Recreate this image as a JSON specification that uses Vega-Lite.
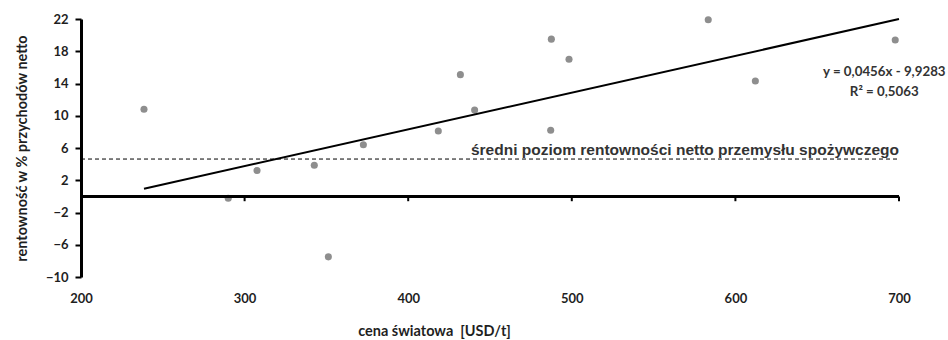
{
  "$schema": "https://vega.github.io/schema/vega-lite/v6.json",
  "width": 818,
  "height": 258,
  "autosize": {"type": "none"},
  "padding": {"left": 81, "top": 19, "right": 49, "bottom": 63},
  "background": "white",
  "config": {
    "view": {"stroke": null},
    "axis": {"grid": false, "labelOverlap": false, "labelFlush": false}
  },
  "datasets": {
    "points": [
      {"cena": 238.5, "rent": 10.8},
      {"cena": 290.0, "rent": -0.24},
      {"cena": 307.6, "rent": 3.2},
      {"cena": 342.6, "rent": 3.85},
      {"cena": 351.2, "rent": -7.5},
      {"cena": 372.6, "rent": 6.4},
      {"cena": 418.4, "rent": 8.1},
      {"cena": 431.9, "rent": 15.1},
      {"cena": 440.6, "rent": 10.7},
      {"cena": 487.1, "rent": 8.2},
      {"cena": 487.5, "rent": 19.5},
      {"cena": 498.3, "rent": 17.0},
      {"cena": 583.4, "rent": 21.9},
      {"cena": 612.2, "rent": 14.3},
      {"cena": 697.7, "rent": 19.4}
    ],
    "trend": [
      {"cena": 238.5, "rent": 0.95},
      {"cena": 700, "rent": 21.99}
    ],
    "ticks": [{"v": 300}, {"v": 400}, {"v": 500}, {"v": 600}, {"v": 700}],
    "eq": [
      {"label": "y = 0,0456x - 9,9283", "cena": 691, "rent": 15.4},
      {"label": "R² = 0,5063", "cena": 691, "rent": 12.95}
    ]
  },
  "layer": [
    {
      "data": {"name": "points"},
      "mark": {"type": "circle", "color": "#8e8e8e", "opacity": 1, "size": 50},
      "encoding": {
        "x": {
          "field": "cena",
          "type": "quantitative",
          "scale": {"domain": [200, 700], "nice": false, "zero": false},
          "axis": {
            "values": [200, 300, 400, 500, 600, 700],
            "tickCount": 20,
            "domain": false,
            "ticks": false,
            "labelFlush": false,
            "labelOverlap": false,
            "labelFont": "Lato",
            "labelFontWeight": "bold",
            "labelFontSize": 13,
            "labelColor": "#1f1f1f",
            "labelPadding": 15,
            "title": "cena światowa \u00a0[USD/t]",
            "titleFont": "Lato",
            "titleFontWeight": "bold",
            "titleFontSize": 14.5,
            "titleColor": "#1f1f1f",
            "titleX": 353,
            "titlePadding": 19
          }
        },
        "y": {
          "field": "rent",
          "type": "quantitative",
          "scale": {"domain": [-10, 22], "nice": false, "zero": false},
          "axis": {
            "values": [-10, -6, -2, 2, 6, 10, 14, 18, 22],
            "tickCount": 20,
            "labelFlush": false,
            "labelOverlap": false,
            "domainColor": "black",
            "domainWidth": 3,
            "tickColor": "black",
            "tickWidth": 2,
            "tickSize": 6,
            "labelFont": "Lato",
            "labelFontWeight": "bold",
            "labelFontSize": 13,
            "labelColor": "#1f1f1f",
            "labelPadding": 7,
            "title": "rentowność w % przychodów netto",
            "titleFont": "Lato",
            "titleFontWeight": "bold",
            "titleFontSize": 14.5,
            "titleColor": "#1f1f1f",
            "titlePadding": 16
          }
        }
      }
    },
    {
      "data": {"values": [{}]},
      "mark": {"type": "rule", "stroke": "black", "strokeWidth": 3},
      "encoding": {
        "x": {"datum": 200, "type": "quantitative"},
        "x2": {"datum": 700},
        "y": {"datum": 0, "type": "quantitative"}
      }
    },
    {
      "data": {"name": "ticks"},
      "mark": {"type": "rule", "stroke": "black", "strokeWidth": 2},
      "encoding": {
        "x": {"field": "v", "type": "quantitative"},
        "y": {"datum": 0, "type": "quantitative"},
        "y2": {"datum": -0.6}
      }
    },
    {
      "data": {"values": [{}]},
      "mark": {"type": "rule", "stroke": "black", "strokeWidth": 1, "strokeDash": [4, 3]},
      "encoding": {
        "x": {"datum": 200, "type": "quantitative"},
        "x2": {"datum": 700},
        "y": {"datum": 4.63, "type": "quantitative"}
      }
    },
    {
      "data": {"name": "trend"},
      "mark": {"type": "line", "color": "black", "strokeWidth": 2},
      "encoding": {
        "x": {"field": "cena", "type": "quantitative"},
        "y": {"field": "rent", "type": "quantitative"}
      }
    },
    {
      "data": {"values": [{"label": "średni poziom rentowności netto przemysłu spożywczego"}]},
      "mark": {"type": "text", "align": "right", "baseline": "alphabetic", "font": "Liberation Sans", "fontWeight": "bold", "fontSize": 15.5, "color": "#333333"},
      "encoding": {
        "x": {"datum": 700, "type": "quantitative"},
        "y": {"datum": 5.13, "type": "quantitative"},
        "text": {"field": "label"}
      }
    },
    {
      "data": {"name": "eq"},
      "mark": {"type": "text", "align": "center", "baseline": "middle", "font": "Lato", "fontWeight": "bold", "fontSize": 13.3, "color": "#333333", "clip": false},
      "encoding": {
        "x": {"field": "cena", "type": "quantitative"},
        "y": {"field": "rent", "type": "quantitative"},
        "text": {"field": "label"}
      }
    }
  ]
}
